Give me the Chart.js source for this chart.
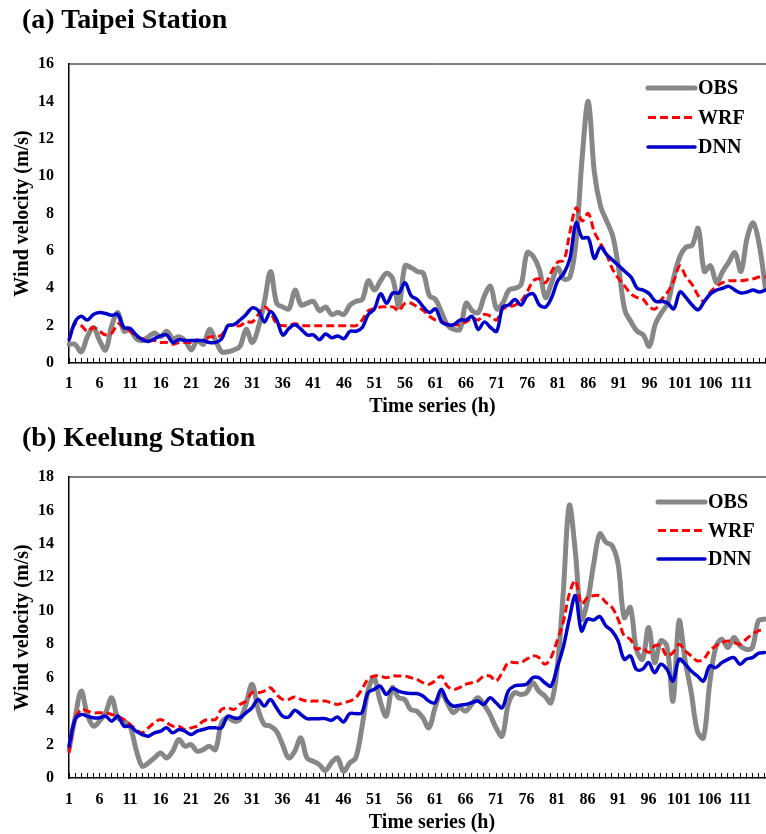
<!DOCTYPE html>
<html>
<head>
<meta charset="utf-8">
<script src="https://cdn.jsdelivr.net/npm/chart.js@4.4.1/dist/chart.umd.min.js"></script>
<style>
  html, body { margin: 0; padding: 0; background: #fff; overflow: hidden; }
  #wrap { position: relative; width: 766px; height: 834px; overflow: hidden; }
  .panel { position: absolute; left: 0; width: 812px; height: 417px; }
  .ptitle { position: absolute; left: 22px; margin: 0; font: bold 28px 'Liberation Serif', 'Times New Roman', serif; line-height: 1; color: #000; white-space: nowrap; }
</style>
</head>
<body>
<div id="wrap">
  <div class="panel" style="top:0"><canvas id="taipei" width="812" height="417"></canvas></div>
  <div class="panel" style="top:417px"><canvas id="keelung" width="812" height="417"></canvas></div>
  <div class="ptitle" style="top:5px">(a) Taipei Station</div>
  <div class="ptitle" style="top:423px">(b) Keelung Station</div>
</div>
<script>
// Hourly time axis (h)
const HOURS = Array.from({ length: 120 }, (_, i) => i + 1);
const SERIES_NAMES = ['OBS', 'WRF', 'DNN'];

// Taipei station wind velocity (m/s)
const TAIPEI_OBS = [
  1.0, 1.0, 0.6, 1.4, 1.9, 1.2, 0.7, 2.0, 2.7, 1.7,
  1.8, 1.3, 1.2, 1.4, 1.6, 1.4, 1.7, 1.3, 1.4, 1.2,
  0.7, 1.2, 1.0, 1.8, 1.2, 0.6, 0.6, 0.7, 0.9, 1.8,
  1.1, 1.9, 3.3, 4.9, 3.2, 3.0, 2.9, 3.9, 3.1, 3.2,
  3.3, 2.8, 3.0, 2.6, 2.7, 2.6, 3.1, 3.3, 3.4, 4.4,
  3.9, 4.4, 4.8, 4.5, 3.0, 5.2, 5.1, 4.9, 4.8, 3.6,
  3.4, 2.7, 2.0, 1.8, 1.8, 3.2, 2.8, 2.7, 3.6, 4.1,
  2.9, 3.2, 3.9, 4.0, 4.2, 5.9, 5.7, 5.0, 3.5, 4.3,
  5.1, 4.5, 4.6, 6.5, 11.0, 14.0, 10.2, 8.4, 7.6, 6.8,
  5.0, 2.8, 2.2, 1.7, 1.5, 0.9, 2.1, 2.7, 3.2, 4.6,
  5.7, 6.2, 6.3, 7.2, 4.9, 5.2, 4.3, 4.9, 5.4, 5.9,
  4.9, 6.7, 7.5, 6.3, 4.0
];
const TAIPEI_WRF = [
  1.2, 2.1, 2.0, 1.7, 1.9, 1.7, 1.5, 1.6, 2.1, 1.9,
  1.7, 1.4, 1.3, 1.2, 1.2, 1.1, 1.1, 1.0, 1.1, 1.1,
  1.1, 1.2, 1.2, 1.4, 1.4, 1.5, 2.0, 2.0, 2.0, 2.2,
  2.2, 2.6, 3.0, 2.7, 2.1, 2.0, 2.0, 2.1, 2.0, 2.0,
  2.0, 2.0, 2.0, 2.0, 2.0, 2.0, 2.0, 2.0, 2.3, 2.8,
  2.9, 3.0, 3.0, 3.0, 2.8, 3.2, 3.2, 3.0, 2.8, 2.5,
  2.3, 2.2, 2.1, 2.05, 2.05, 2.2, 2.4, 2.3, 2.6, 2.5,
  2.3, 2.9, 3.0, 3.1, 3.3, 3.8, 4.4, 4.5, 4.3, 4.9,
  5.4, 5.5, 7.0, 8.3, 7.6, 8.0, 7.0, 6.4, 5.8, 5.0,
  4.5, 4.1, 3.7, 3.5, 3.4, 3.0, 2.9, 3.4, 3.8, 4.4,
  5.2, 4.6, 4.2, 3.6, 3.3, 3.8, 4.1, 4.3, 4.4, 4.4,
  4.4, 4.45, 4.5, 4.6, 4.6
];
const TAIPEI_DNN = [
  1.25, 2.2, 2.5, 2.3, 2.6, 2.7, 2.65, 2.55, 2.6, 1.9,
  1.85, 1.5, 1.25, 1.15, 1.3, 1.45, 1.5, 1.1, 1.25, 1.2,
  1.2, 1.2, 1.2, 1.1, 1.1, 1.3, 2.0, 2.05, 2.3, 2.6,
  2.95, 2.8, 2.2, 2.75, 2.3, 1.5, 1.85, 2.05, 1.8, 1.5,
  1.5, 1.25, 1.55, 1.35, 1.45, 1.3, 1.7, 1.7, 1.9, 2.6,
  2.9, 3.7, 3.2, 3.75, 3.75, 4.3, 3.6, 3.4, 3.0, 2.7,
  2.9, 2.2, 2.05, 2.05, 2.3, 2.3, 2.5, 1.8, 2.2, 1.9,
  1.7, 3.0, 3.1, 3.4, 3.1, 3.6, 3.7, 3.1, 3.0, 3.5,
  4.4, 4.8, 5.6, 7.5, 6.7, 6.7, 5.6, 6.2, 5.8, 5.5,
  5.2, 4.9, 4.6, 4.0, 3.9, 3.7, 3.3, 3.3, 3.2, 2.9,
  3.8, 3.5, 3.1, 2.85, 3.3, 3.7, 3.9, 4.0, 4.1, 3.9,
  3.75, 3.8, 3.9, 3.8, 3.9
];

// Keelung station wind velocity (m/s)
const KEELUNG_OBS = [
  1.7, 3.6, 5.2, 3.8, 3.1, 3.4, 3.9, 4.8, 3.6, 3.4,
  3.1, 1.7, 0.7, 0.9, 1.2, 1.5, 1.2, 1.6, 2.3, 1.9,
  2.0, 1.6, 1.7, 1.9, 1.7, 3.3, 3.6, 3.4, 3.5, 4.4,
  5.6, 4.1, 3.2, 3.1, 2.8, 2.0, 1.2, 1.6, 2.4, 1.2,
  1.0, 0.8, 0.45, 0.9, 1.2, 0.4, 0.9, 1.2, 3.0, 5.2,
  6.0, 4.6, 3.7, 5.4, 4.8, 4.7, 4.1, 4.0, 3.6, 3.0,
  4.2, 5.1, 4.5, 3.9, 4.2, 4.0, 4.4, 4.8, 4.4, 3.8,
  3.0, 2.5, 4.4, 5.1, 5.0, 5.1, 5.7, 5.2, 4.9, 4.5,
  6.5, 11.0, 16.3, 13.5, 9.5, 10.6, 12.8, 14.6, 14.1, 13.9,
  12.8, 9.6, 10.2, 7.7, 7.1, 9.0, 6.9, 8.2, 7.9, 4.6,
  9.4, 7.0, 5.1, 2.8, 2.4, 5.6, 7.8, 8.3, 7.8, 8.4,
  7.9, 7.7, 7.8, 9.4, 9.5
];
const KEELUNG_WRF = [
  1.5, 3.5, 4.1, 4.0, 3.9, 3.9, 3.9, 3.8, 3.7, 3.5,
  3.2, 2.9, 2.7, 3.0, 3.3, 3.5, 3.3, 3.1, 3.1, 2.9,
  3.0, 3.1, 3.4, 3.5, 3.5, 4.1, 4.2, 4.1, 4.4, 4.6,
  5.1, 5.1, 5.2, 5.4, 5.0, 4.7, 4.7, 4.85, 4.7, 4.6,
  4.6, 4.6, 4.6, 4.5, 4.4, 4.5, 4.6, 4.8, 5.3, 5.9,
  6.1, 6.1, 6.0, 6.1, 6.1, 6.1, 6.0, 5.9, 5.7, 5.6,
  5.8, 6.1, 5.5, 5.3, 5.4, 5.6, 5.7, 5.8, 6.1, 6.1,
  5.8, 6.3, 6.9, 6.9, 6.9, 7.1, 7.3, 7.2, 6.8, 7.2,
  8.2, 9.3, 11.0, 11.8, 10.4, 10.8, 10.9, 10.9, 10.5, 10.2,
  9.5, 8.5, 8.3, 7.7, 7.8, 7.5, 7.9, 7.9, 7.3, 7.5,
  8.0, 7.6, 7.3, 7.0, 7.1, 7.6, 7.9, 8.1, 8.2, 8.1,
  8.0, 8.3, 8.6, 8.8, 8.9
];
const KEELUNG_DNN = [
  1.9, 3.5, 3.8, 3.7, 3.6, 3.6, 3.7, 3.4, 3.7, 3.1,
  3.1, 2.8, 2.6, 2.5, 2.7, 2.8, 3.0, 2.7, 2.9, 2.8,
  2.6, 2.8, 2.9, 3.0, 3.0, 3.0, 3.7, 3.6, 3.6, 3.9,
  4.2, 4.7, 4.3, 4.7, 4.2, 3.7, 3.65, 4.05, 3.8, 3.55,
  3.55, 3.55, 3.55, 3.45, 3.65, 3.35, 3.85, 3.85, 3.9, 5.1,
  5.3, 5.5, 5.0, 5.35, 5.2, 5.1, 5.05, 5.05, 4.9, 4.6,
  4.5, 5.3, 4.6, 4.3, 4.35, 4.4, 4.5, 4.6, 4.4, 4.8,
  4.5, 4.2, 5.2, 5.5, 5.55, 5.6, 6.0, 6.0, 5.7, 5.5,
  6.6, 7.8, 9.5, 10.9, 8.8, 9.5, 9.45, 9.65, 9.1, 8.8,
  8.2, 7.1, 7.3, 6.5, 6.5, 6.9, 6.3, 6.8, 6.5, 5.8,
  7.1, 6.8, 6.4, 6.1, 5.8, 6.7, 6.6, 6.9, 7.1, 7.2,
  6.8, 7.1, 7.2, 7.45, 7.5
];

const SERIF = "'Liberation Serif', 'Times New Roman', serif";

// Border on the top and right of the plot area (the axes draw the other two sides)
const plotFrame = {
  id: 'plotFrame',
  beforeDatasetsDraw(chart, args, opts) {
    const { ctx, chartArea: a } = chart;
    ctx.save();
    ctx.strokeStyle = opts.color;
    ctx.lineWidth = opts.width;
    ctx.beginPath();
    ctx.moveTo(a.left, a.top);
    ctx.lineTo(a.right, a.top);
    ctx.lineTo(a.right, a.bottom);
    ctx.stroke();
    ctx.restore();
  }
};

// Legend drawn inside the plot area, one row per dataset
const insideLegend = {
  id: 'insideLegend',
  afterDatasetsDraw(chart, args, opts) {
    const ctx = chart.ctx;
    ctx.save();
    ctx.font = opts.font;
    ctx.textBaseline = 'middle';
    ctx.textAlign = 'left';
    ctx.fillStyle = '#000';
    chart.data.datasets.forEach((ds, i) => {
      const y = opts.y + i * opts.rowGap;
      ctx.strokeStyle = ds.borderColor;
      ctx.lineWidth = ds.borderWidth;
      ctx.lineCap = ds.borderDash ? 'butt' : 'round';
      ctx.setLineDash(ds.borderDash || []);
      ctx.beginPath();
      ctx.moveTo(opts.x, y);
      ctx.lineTo(opts.x + opts.lineLength, y);
      ctx.stroke();
      ctx.setLineDash([]);
      ctx.fillText(ds.label, opts.x + opts.lineLength + opts.textGap, y + 1);
    });
    ctx.restore();
  }
};

function makeDatasets(obs, wrf, dnn) {
  return [
    { label: SERIES_NAMES[0], data: obs, borderColor: '#878787', borderWidth: 5,
      borderCapStyle: 'round', borderJoinStyle: 'round', order: 3 },
    { label: SERIES_NAMES[1], data: wrf, borderColor: '#ff0000', borderWidth: 3,
      borderDash: [8, 4], order: 2 },
    { label: SERIES_NAMES[2], data: dnn, borderColor: '#0000cc', borderWidth: 3.5,
      borderCapStyle: 'round', borderJoinStyle: 'round', order: 1 }
  ];
}

function makeChart(id, datasets, p) {
  const nData = datasets[0].data.length;
  return new Chart(document.getElementById(id), {
    type: 'line',
    data: { labels: HOURS, datasets },
    plugins: [plotFrame, insideLegend],
    options: {
      responsive: false,
      animation: false,
      layout: { padding: { top: p.top, left: 0, right: 10, bottom: 0 } },
      elements: { point: { radius: 0, hoverRadius: 0 }, line: { tension: 0.35, fill: false } },
      plugins: {
        legend: { display: false },
        tooltip: { enabled: false },
        plotFrame: { color: '#000', width: 1 },
        insideLegend: { x: p.legX, y: p.legY, rowGap: p.legGap, lineLength: 47, textGap: 3,
                        font: 'bold 20px ' + SERIF }
      },
      scales: {
        x: {
          type: 'category',
          offset: false,
          afterFit: s => { s.height = p.xHeight; },
          grid: { display: true, drawOnChartArea: false, drawTicks: true, tickLength: -5,
                  color: '#000', lineWidth: 1 },
          border: { display: true, color: '#000', width: 1.5 },
          ticks: {
            autoSkip: false, maxRotation: 0, minRotation: 0, padding: p.xPad,
            color: '#000', font: { family: SERIF, size: 16, weight: 'bold' },
            // label every fifth hour over the span that carries data
            callback: function (value, index) {
              return (index % 5 === 0 && index < nData) ? this.getLabelForValue(value) : '';
            }
          },
          title: { display: true, text: 'Time series (h)', color: '#000',
                   font: { family: SERIF, size: 20, weight: 'bold', lineHeight: 1 },
                   padding: { top: 0, bottom: p.xTitlePad } }
        },
        y: {
          min: 0, max: p.yMax,
          afterFit: s => { s.width = 69; },
          grid: { display: false, drawTicks: false },
          border: { display: true, color: '#000', width: 1.5 },
          ticks: { stepSize: 2, padding: 15, color: '#000',
                   font: { family: SERIF, size: 16, weight: 'bold' } },
          title: { display: true, text: 'Wind velocity (m/s)', color: '#000',
                   font: { family: SERIF, size: 20, weight: 'bold', lineHeight: 1.2 },
                   padding: { top: 11, bottom: 0 } }
        }
      }
    }
  });
}

makeChart('taipei', makeDatasets(TAIPEI_OBS, TAIPEI_WRF, TAIPEI_DNN),
  { top: 64, yMax: 16, xHeight: 54, xPad: 16, xTitlePad: 0, legX: 648, legY: 88, legGap: 29.5 });
makeChart('keelung', makeDatasets(KEELUNG_OBS, KEELUNG_WRF, KEELUNG_DNN),
  { top: 60, yMax: 18, xHeight: 56, xPad: 17, xTitlePad: 1, legX: 658, legY: 85, legGap: 28.5 });
</script>
</body>
</html>
